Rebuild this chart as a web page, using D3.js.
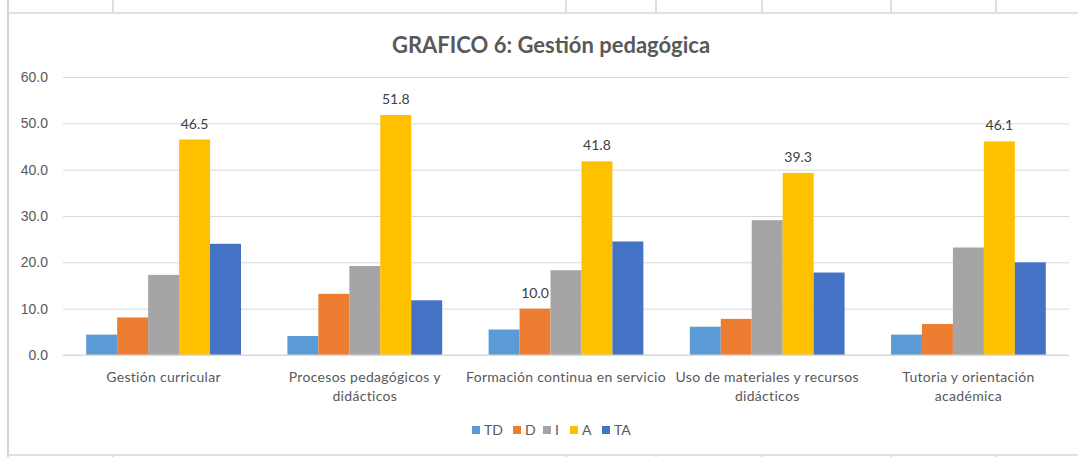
<!DOCTYPE html>
<html>
<head>
<meta charset="utf-8">
<script src="https://cdn.jsdelivr.net/npm/d3@7"></script>
<style>
  body { margin: 0; background: #fff; }
  svg { display: block; font-family: Lato, "Open Sans", sans-serif; }
</style>
</head>
<body>
<div id="chart"></div>
<script>
const width = 1078;
const height = 457;

// data
const categories = [
  ["Gestión curricular"],
  ["Procesos pedagógicos y", "didácticos"],
  ["Formación continua en servicio"],
  ["Uso de materiales y recursos", "didácticos"],
  ["Tutoria y orientación", "académica"]
];
const seriesNames = ["TD", "D", "I", "A", "TA"];
const seriesColors = ["#5B9BD5", "#ED7D31", "#A5A5A5", "#FFC000", "#4472C4"];
const TD = [4.4, 4.1, 5.5, 6.1, 4.4];
const D = [8.1, 13.2, 10.0, 7.8, 6.7];
const I = [17.3, 19.2, 18.3, 29.1, 23.2];
const A = [46.5, 51.8, 41.8, 39.3, 46.1];
const TA = [24.0, 11.8, 24.5, 17.8, 20.0];
const yTicks = [0, 10, 20, 30, 40, 50, 60];
// which bars carry a value label (series -> category indexes)
const labelled = { A: [0, 1, 2, 3, 4], D: [2] };

const values = [TD, D, I, A, TA];

const svg = d3.select("#chart")
  .append("svg")
  .attr("width", width)
  .attr("height", height);

// spreadsheet cell lines around the chart
const cellLines = [113, 566, 656, 762, 891, 996];
svg.selectAll(".cell-top")
  .data(cellLines)
  .join("line")
  .attr("x1", d => d).attr("x2", d => d)
  .attr("y1", 0).attr("y2", 12)
  .attr("stroke", "#d4d4d4").attr("stroke-width", 1.5);
svg.selectAll(".cell-bottom")
  .data(cellLines)
  .join("line")
  .attr("x1", d => d).attr("x2", d => d)
  .attr("y1", 456).attr("y2", 457)
  .attr("stroke", "#d4d4d4").attr("stroke-width", 1.5);

// chart frame (left, top, bottom edges visible)
svg.append("line")
  .attr("x1", 8).attr("x2", 8).attr("y1", 0).attr("y2", 457)
  .attr("stroke", "#d4d4d4").attr("stroke-width", 2);
svg.append("line")
  .attr("x1", 8).attr("x2", width).attr("y1", 13).attr("y2", 13)
  .attr("stroke", "#d9d9d9").attr("stroke-width", 1.5);
svg.append("line")
  .attr("x1", 8).attr("x2", width).attr("y1", 455).attr("y2", 455)
  .attr("stroke", "#d9d9d9").attr("stroke-width", 1.5);

const plotLeft = 63;
const plotRight = 1069;
const plotTop = 77;
const plotBottom = 355;

const x0 = d3.scaleBand()
  .domain(d3.range(categories.length))
  .range([plotLeft, plotRight])
  .paddingInner(1.5 / 6.5)
  .paddingOuter(0.75 / 6.5);

const x1 = d3.scaleBand()
  .domain(seriesNames)
  .range([0, x0.bandwidth()]);

const y = d3.scaleLinear()
  .domain([0, 60])
  .range([plotBottom, plotTop]);

// gridlines
const yAxis = d3.axisLeft(y)
  .tickValues(yTicks)
  .tickSize(-(plotRight - plotLeft))
  .tickFormat(d3.format(".1f"))
  .tickPadding(15);

const gy = svg.append("g")
  .attr("transform", `translate(${plotLeft},0)`)
  .call(yAxis);
gy.select(".domain").remove();
gy.selectAll(".tick line").attr("stroke", "#d9d9d9").attr("stroke-width", 1);
gy.selectAll(".tick text")
  .attr("fill", "#595959")
  .style("font-size", "14px");

// bars
const groups = svg.append("g")
  .selectAll("g")
  .data(seriesNames)
  .join("g")
  .attr("fill", (d, i) => seriesColors[i]);

groups.selectAll("rect")
  .data((s, si) => values[si].map((v, ci) => ({ s, v, ci })))
  .join("rect")
  .attr("x", d => x0(d.ci) + x1(d.s))
  .attr("y", d => y(d.v))
  .attr("width", x1.bandwidth())
  .attr("height", d => y(0) - y(d.v));

// value labels
Object.entries(labelled).forEach(([s, idx]) => {
  const si = seriesNames.indexOf(s);
  svg.append("g")
    .selectAll("text")
    .data(idx)
    .join("text")
    .attr("x", ci => x0(ci) + x1(s) + x1.bandwidth() / 2)
    .attr("y", ci => y(values[si][ci]) - 11)
    .attr("text-anchor", "middle")
    .attr("fill", "#404040")
    .style("font-size", "14px")
    .text(ci => d3.format(".1f")(values[si][ci]));
});

// x axis baseline
svg.append("line")
  .attr("x1", plotLeft).attr("x2", plotRight)
  .attr("y1", y(0)).attr("y2", y(0))
  .attr("stroke", "#d9d9d9");

// category labels
const catLabels = svg.append("g")
  .selectAll("text")
  .data(categories)
  .join("text")
  .attr("x", (d, i) => x0(i) + x0.bandwidth() / 2)
  .attr("y", 382)
  .attr("text-anchor", "middle")
  .attr("fill", "#595959")
  .style("font-size", "14px")
  .style("letter-spacing", "0.3px");

catLabels.selectAll("tspan")
  .data(d => d)
  .join("tspan")
  .attr("x", function () { return d3.select(this.parentNode).attr("x"); })
  .attr("dy", (d, i) => i === 0 ? 0 : 19)
  .text(d => d);

// title
svg.append("text")
  .attr("x", 551)
  .attr("y", 53)
  .attr("text-anchor", "middle")
  .attr("fill", "#595959")
  .style("font-size", "22px")
  .style("font-weight", "bold")
  .text("GRAFICO 6: Gestión pedagógica");

// legend
const legendX = [472, 513, 543, 570, 602];
const legend = svg.append("g")
  .selectAll("g")
  .data(seriesNames)
  .join("g")
  .attr("transform", (d, i) => `translate(${legendX[i]},430)`);

legend.append("rect")
  .attr("x", 0).attr("y", -4)
  .attr("width", 8).attr("height", 8)
  .attr("fill", (d, i) => seriesColors[i]);

legend.append("text")
  .attr("x", 12)
  .attr("y", 5)
  .attr("fill", "#595959")
  .style("font-size", "14px")
  .text(d => d);
</script>
</body>
</html>
